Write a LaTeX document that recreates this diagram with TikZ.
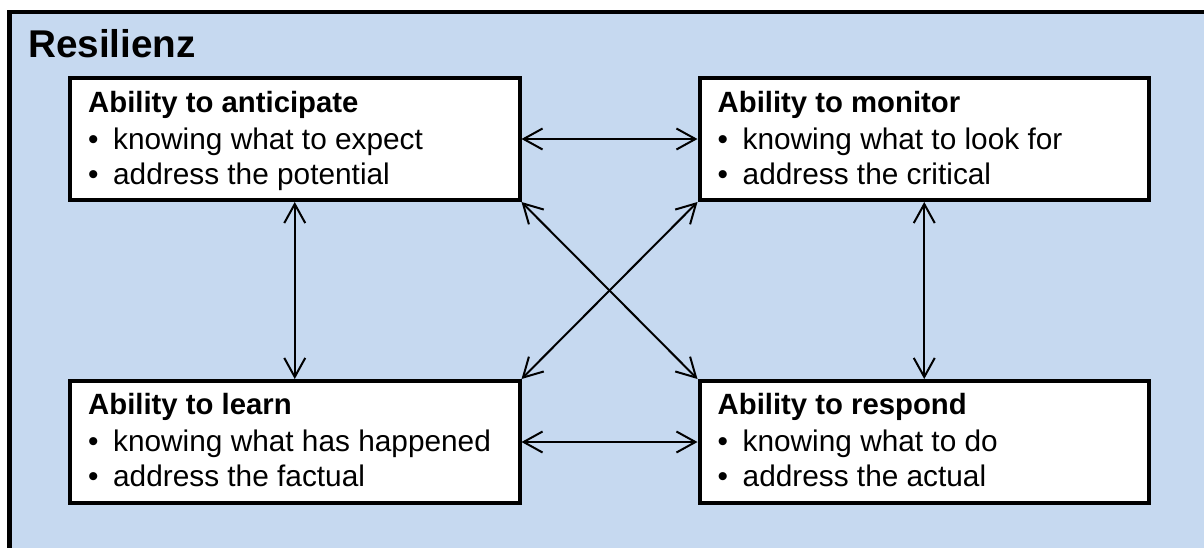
\documentclass[tikz,border=0pt]{standalone}
\usepackage{fontspec}
\setmainfont{Liberation Sans}
\usetikzlibrary{arrows.meta,calc}
\definecolor{panelblue}{RGB}{198,217,240}
\tikzset{
  abilitybox/.style={draw=black, line width=4pt, fill=white, rectangle,
    minimum width=449.5pt, minimum height=122pt, inner sep=0pt, anchor=north west},
  headline/.style={anchor=base west, inner sep=0pt, font=\fontsize{29.3}{35}\selectfont\bfseries},
  bulletline/.style={anchor=base west, inner sep=0pt, font=\fontsize{29.8}{35}\selectfont},
  link/.style={line width=2pt, {Straight Barb[length=19pt,width=21pt,line width=2pt]}-{Straight Barb[length=19pt,width=21pt,line width=2pt]}}
}
\newcommand{\itemmark}{\makebox[25pt][l]{•}}
\begin{document}
\begin{tikzpicture}[x=1pt,y=-1pt]
  \useasboundingbox (0,0) rectangle (1204,547);
  \begin{scope}
    \clip (0,0) rectangle (1204,547);
    % outer panel, running off the right and bottom edges
    \draw[line width=4.5pt, fill=panelblue] (9.5,12) rectangle (1230,580);
  \end{scope}
  \node[anchor=base west, inner sep=0pt, font=\fontsize{38.7}{44}\selectfont\bfseries] (title) at (28,57) {Resilienz};

  % the four abilities
  \node[abilitybox] (tl) at (68,76) {};
  \node[abilitybox] (tr) at (697.5,76) {};
  \node[abilitybox] (bl) at (68,379) {};
  \node[abilitybox] (br) at (697.5,379) {};

  \node[headline]   (tlh) at ($(tl.north west)+(20,36)$) {Ability to anticipate};
  \node[bulletline] (tla) at ($(tl.north west)+(20,73)$) {\itemmark knowing what to expect};
  \node[bulletline] (tlb) at ($(tl.north west)+(20,108)$) {\itemmark address the potential};

  \node[headline]   (trh) at ($(tr.north west)+(20,36)$) {Ability to monitor};
  \node[bulletline] (tra) at ($(tr.north west)+(20,73)$) {\itemmark knowing what to look for};
  \node[bulletline] (trb) at ($(tr.north west)+(20,108)$) {\itemmark address the critical};

  \node[headline]   (blh) at ($(bl.north west)+(20,35)$) {Ability to learn};
  \node[bulletline] (bla) at ($(bl.north west)+(20,72)$) {\itemmark knowing what has happened};
  \node[bulletline] (blb) at ($(bl.north west)+(20,107)$) {\itemmark address the factual};

  \node[headline]   (brh) at ($(br.north west)+(20,35)$) {Ability to respond};
  \node[bulletline] (bra) at ($(br.north west)+(20,72)$) {\itemmark knowing what to do};
  \node[bulletline] (brb) at ($(br.north west)+(20,107)$) {\itemmark address the actual};

  % mutual links
  \draw[link] (tl.east) -- (tr.west);
  \draw[link] (bl.east) -- (br.west);
  \draw[link] (tl.south) -- (bl.north);
  \draw[link] (tr.south) -- (br.north);
  \draw[link] (tl.south east) -- (br.north west);
  \draw[link] (tr.south west) -- (bl.north east);
\end{tikzpicture}
\end{document}
